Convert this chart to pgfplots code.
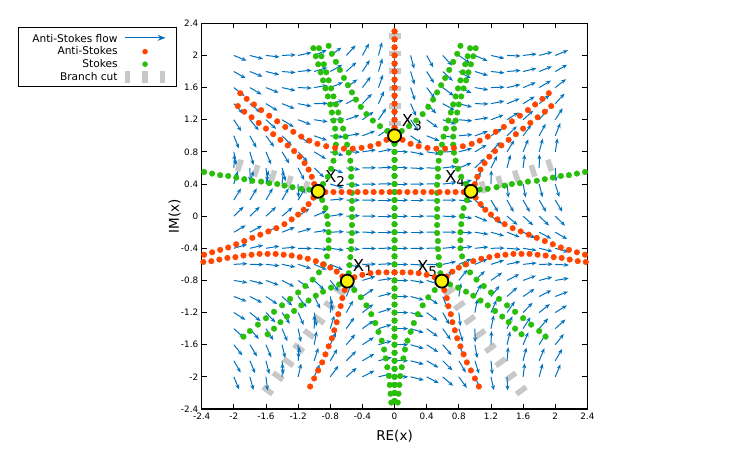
\documentclass[border=0pt]{standalone}
\usepackage{pgfplots}
\pgfplotsset{compat=1.18}
\usepackage{pgfplotstable}
\usetikzlibrary{arrows.meta}
\usepackage{fontspec}
\setmainfont{DejaVu Sans}
\definecolor{flowc}{RGB}{0,114,189}
\definecolor{redc}{RGB}{255,69,0}
\definecolor{greenc}{RGB}{40,190,10}
\definecolor{cutc}{RGB}{200,200,200}

% arrow directions (degrees) for x>0; x<0 mirrored with opposite sign
\pgfplotstableread{
x y d
0.2 -2 -13.9
0.2 -1.8 -15
0.2 -1.6 -16.3
0.2 -1.4 -17.3
0.2 -1.2 -17.5
0.2 -1 -14.9
0.2 -0.8 -8.8
0.2 -0.6 -2.9
0.2 -0.4 -0.4
0.2 -0.2 0
0.2 0 0
0.2 0.2 0
0.2 0.4 -0.4
0.2 0.6 -2.9
0.2 0.8 -11.2
0.2 1 -33.5
0.2 1.2 -56
0.2 1.4 -66
0.2 1.6 -70.7
0.2 1.8 -73.4
0.2 2 -75
0.4 -2 -27.6
0.4 -1.8 -30.1
0.4 -1.6 -32.9
0.4 -1.4 -35.6
0.4 -1.2 -37.3
0.4 -1 -34.5
0.4 -0.8 -17.2
0.4 -0.6 -1.4
0.4 -0.4 1.2
0.4 -0.2 0.35
0.4 0 -0.3
0.4 0.2 0.35
0.4 0.4 1.1
0.4 0.6 -0.9
0.4 0.8 -8.4
0.4 1 -21.5
0.4 1.2 -35.5
0.4 1.4 -45.9
0.4 1.6 -52.7
0.4 1.8 -57.5
0.4 2 -61.1
0.6 -2 -41
0.6 -1.8 -44.8
0.6 -1.6 -49.6
0.6 -1.4 -54.7
0.6 -1.2 -60.8
0.6 -1 -68.1
0.6 -0.8 44
0.6 -0.6 12.1
0.6 -0.4 5.2
0.6 -0.2 0.1
0.6 0 -2.2
0.6 0.2 0.1
0.6 0.4 5.6
0.6 0.6 6.7
0.6 0.8 1.1
0.6 1 -8.6
0.6 1.2 -19.4
0.6 1.4 -29.1
0.6 1.6 -36.6
0.6 1.8 -42.8
0.6 2 -47.5
0.8 -2 -53.9
0.8 -1.8 -59.2
0.8 -1.6 -65.3
0.8 -1.4 -72.8
0.8 -1.2 -83.1
0.8 -1 80.7
0.8 -0.8 51.7
0.8 -0.6 23.5
0.8 -0.4 7.7
0.8 -0.2 -2.7
0.8 0 -9.1
0.8 0.2 -5.7
0.8 0.4 16.9
0.8 0.6 21.4
0.8 0.8 14.8
0.8 1 5.2
0.8 1.2 -5
0.8 1.4 -14.5
0.8 1.6 -22.4
0.8 1.8 -29.2
0.8 2 -35
1 -2 -66.1
1 -1.8 -72.3
1 -1.6 -79.6
1 -1.4 -88.7
1 -1.2 79.4
1 -1 63.4
1 -0.8 43.2
1 -0.6 22.8
1 -0.4 5.6
1 -0.2 -8.8
1 0 -22.5
1 0.2 -41.3
1 0.4 64.1
1 0.6 43.7
1 0.8 31
1 1 19.3
1 1.2 8.6
1 1.4 -1.2
1 1.6 -9.6
1 1.8 -16.8
1 2 -23.1
1.2 -2 -77.3
1.2 -1.8 -84.1
1.2 -1.6 87.7
1.2 -1.4 78
1.2 -1.2 66
1.2 -1 51.5
1.2 -0.8 35
1.2 -0.6 17.7
1.2 -0.4 0.8
1.2 -0.2 -15.7
1.2 0 -34
1.2 0.2 -59
1.2 0.4 88.5
1.2 0.6 63.2
1.2 0.8 46.1
1.2 1 32.7
1.2 1.2 21.1
1.2 1.4 11
1.2 1.6 2.1
1.2 1.8 -5.7
1.2 2 -12.4
1.4 -2 -87.5
1.4 -1.8 85.1
1.4 -1.6 76.7
1.4 -1.4 66.8
1.4 -1.2 55.2
1.4 -1 41.9
1.4 -0.8 27.2
1.4 -0.6 11.5
1.4 -0.4 -4.5
1.4 -0.2 -21.3
1.4 0 -39.7
1.4 0.2 -61
1.4 0.4 -83.9
1.4 0.6 75.3
1.4 0.8 58.3
1.4 1 44.3
1.4 1.2 32.2
1.4 1.4 21.8
1.4 1.6 12.7
1.4 1.8 4.7
1.4 2 -2.5
1.6 -2 83.3
1.6 -1.8 76
1.6 -1.6 67.2
1.6 -1.4 57.4
1.6 -1.2 46.3
1.6 -1 33.9
1.6 -0.8 20.5
1.6 -0.6 6.1
1.6 -0.4 -9.2
1.6 -0.2 -25.2
1.6 0 -42.3
1.6 0.2 -60.5
1.6 0.4 -79.2
1.6 0.6 83
1.6 0.8 67.4
1.6 1 53.8
1.6 1.2 42
1.6 1.4 31.4
1.6 1.6 22.2
1.6 1.8 13.7
1.6 2 6.6
1.8 -2 74.9
1.8 -1.8 67.3
1.8 -1.6 58.7
1.8 -1.4 49.3
1.8 -1.2 38.7
1.8 -1 27.2
1.8 -0.8 14.5
1.8 -0.6 1
1.8 -0.4 -13.1
1.8 -0.2 -28
1.8 0 -43.5
1.8 0.2 -59.6
1.8 0.4 -75.7
1.8 0.6 88.9
1.8 0.8 74.5
1.8 1 61.6
1.8 1.2 50.1
1.8 1.4 39.7
1.8 1.6 30.7
1.8 1.8 22.3
1.8 2 14.9
2 -2 67.4
2 -1.8 59.8
2 -1.6 51.4
2 -1.4 42.2
2 -1.2 32.1
2 -1 21.1
2 -0.8 9.3
2 -0.6 -3.2
2 -0.4 -16.4
2 -0.2 -30
2 0 -44.1
2 0.2 -58.5
2 0.4 -72.8
2 0.6 -86.7
2 0.8 80.3
2 1 68.2
2 1.2 57.1
2 1.4 47.2
2 1.6 38.1
2 1.8 29.8
2 2 22.4
}\flowR

\pgfplotstableread{
x y d
0 -2 0
0 -1.8 0
0 -1.6 0
0 -1.4 0
0 -1.2 0
0 -1 0
0 -0.8 0
0 -0.6 0
0 -0.4 0
0 -0.2 0
0 0 0
0 0.2 0
0 0.4 0
0 0.6 0
0 0.8 0
0 1.2 -90
0 1.4 -90
0 1.6 -90
0 1.8 -90
0 2 -90
}\flowC

% anti-Stokes dots, left half (mirrored for right half)
\pgfplotstableread{
x y
0 1.1
0 1.2
0 1.3
0 1.4
0 1.5
0 1.6
0 1.7
0 1.8
0 1.9
0 2.0
0 2.1
0 2.2
0 2.3
-0.1 0.95
-0.2 0.9
-0.3 0.87
-0.41 0.85
-0.52 0.84
-0.63 0.84
-0.74 0.85
-0.85 0.87
-0.96 0.9
-1.06 0.94
-1.16 0.99
-1.26 1.05
-1.36 1.11
-1.46 1.18
-1.56 1.25
-1.66 1.32
-1.75 1.39
-1.84 1.46
-1.92 1.53
-1.0 0.4
-1.03 0.49
-1.07 0.58
-1.12 0.66
-1.18 0.74
-1.25 0.81
-1.33 0.88
-1.42 0.95
-1.51 1.02
-1.6 1.09
-1.69 1.16
-1.78 1.23
-1.87 1.3
-1.95 1.37
-0.86 0.3
-0.76 0.3
-0.66 0.3
-0.56 0.3
-0.46 0.3
-0.36 0.3
-0.26 0.3
-0.16 0.3
-0.06 0.3
-1.01 0.23
-1.07 0.15
-1.13 0.08
-1.2 0.02
-1.28 -0.04
-1.37 -0.1
-1.47 -0.15
-1.57 -0.19
-1.67 -0.23
-1.77 -0.27
-1.87 -0.31
-1.97 -0.35
-2.07 -0.39
-2.17 -0.42
-2.27 -0.45
-2.37 -0.48
-0.65 -0.75
-0.72 -0.69
-0.8 -0.64
-0.89 -0.6
-0.98 -0.56
-1.08 -0.53
-1.18 -0.51
-1.28 -0.49
-1.38 -0.48
-1.48 -0.47
-1.58 -0.47
-1.68 -0.47
-1.78 -0.48
-1.88 -0.49
-1.98 -0.51
-2.08 -0.52
-2.18 -0.54
-2.28 -0.56
-2.38 -0.57
-0.5 -0.76
-0.4 -0.73
-0.3 -0.71
-0.2 -0.7
-0.1 -0.7
0 -0.7
-0.62 -0.92
-0.65 -1.02
-0.67 -1.12
-0.7 -1.22
-0.72 -1.32
-0.75 -1.42
-0.78 -1.52
-0.82 -1.62
-0.86 -1.72
-0.9 -1.82
-0.95 -1.92
-1.0 -2.02
-1.05 -2.12
}\redL

% Stokes dots, left half (mirrored for right half)
\pgfplotstableread{
x y
0 0.9
0 0.8
0 0.7
0 0.6
0 0.5
0 0.4
0 0.3
0 0.2
0 0.1
0 0
0 -0.1
0 -0.2
0 -0.3
0 -0.4
0 -0.5
0 -0.6
0 -0.7
0 -0.8
0 -0.9
0 -1.0
0 -1.1
0 -1.2
0 -1.3
0 -1.4
0 -1.5
0 -1.6
0 -1.7
0 -1.8
0 -1.9
0 -2.0
0 -2.1
0 -2.2
0 -2.3
-0.09 1.06
-0.18 1.12
-0.27 1.19
-0.35 1.27
-0.42 1.36
-0.48 1.45
-0.53 1.54
-0.58 1.63
-0.63 1.72
-0.68 1.82
-0.73 1.92
-0.78 2.02
-0.82 2.12
-0.57 -0.71
-0.56 -0.61
-0.55 -0.51
-0.54 -0.41
-0.54 -0.31
-0.53 -0.21
-0.53 -0.11
-0.53 -0.01
-0.53 0.09
-0.53 0.19
-0.53 0.29
-0.53 0.39
-0.54 0.49
-0.54 0.59
-0.55 0.69
-0.57 0.79
-0.59 0.89
-0.61 0.99
-0.64 1.09
-0.67 1.19
-0.7 1.29
-0.73 1.39
-0.76 1.49
-0.79 1.59
-0.82 1.69
-0.85 1.79
-0.88 1.89
-0.91 1.99
-0.94 2.09
-0.89 0.4
-0.83 0.49
-0.79 0.59
-0.76 0.69
-0.74 0.79
-0.73 0.89
-0.73 0.99
-0.74 1.09
-0.76 1.19
-0.78 1.29
-0.8 1.39
-0.83 1.49
-0.86 1.59
-0.89 1.69
-0.92 1.79
-0.95 1.89
-0.98 1.99
-1.01 2.09
-1.06 0.33
-1.16 0.34
-1.27 0.36
-1.37 0.38
-1.46 0.4
-1.56 0.41
-1.66 0.43
-1.77 0.44
-1.87 0.46
-1.97 0.48
-2.07 0.5
-2.17 0.51
-2.27 0.53
-2.37 0.55
-0.9 0.2
-0.86 0.1
-0.84 0.0
-0.83 -0.1
-0.82 -0.2
-0.82 -0.3
-0.82 -0.4
-0.84 -0.5
-0.88 -0.6
-0.94 -0.7
-1.02 -0.79
-1.11 -0.87
-1.2 -0.95
-1.3 -1.03
-1.4 -1.11
-1.5 -1.19
-1.6 -1.27
-1.7 -1.35
-1.8 -1.43
-1.88 -1.5
-0.69 -0.85
-0.79 -0.89
-0.89 -0.94
-0.98 -0.99
-1.07 -1.05
-1.16 -1.11
-1.25 -1.18
-1.34 -1.25
-1.42 -1.32
-1.5 -1.4
-1.58 -1.47
-0.5 -0.92
-0.42 -1.01
-0.35 -1.11
-0.29 -1.22
-0.24 -1.33
-0.2 -1.44
-0.16 -1.55
-0.13 -1.66
-0.11 -1.77
-0.09 -1.88
-0.07 -1.99
-0.06 -2.1
-0.05 -2.21
-0.04 -2.32
}\greenL

\begin{document}
\begin{tikzpicture}
\useasboundingbox (0pt,0pt) rectangle (750pt,450pt);
\begin{axis}[
  at={(201.7pt,41pt)}, anchor=south west,
  width=385.7pt, height=385.7pt, scale only axis,
  xmin=-2.4, xmax=2.4, ymin=-2.4, ymax=2.4,
  xtick={-2.4,-2,-1.6,-1.2,-0.8,-0.4,0,0.4,0.8,1.2,1.6,2,2.4},
  ytick={-2.4,-2,-1.6,-1.2,-0.8,-0.4,0,0.4,0.8,1.2,1.6,2,2.4},
  tick align=inside, major tick length=5pt,
  axis line style={line width=1.1pt},
  every tick/.style={black, line width=0.8pt},
  tick label style={font=\fontsize{8.8}{10}\selectfont},
  /pgf/number format/assume math mode=true,
  xlabel={RE(x)}, ylabel={IM(x)},
  label style={font=\fontsize{13.5}{14}\selectfont},
  xlabel style={at={(axis description cs:0.5,-0.07)}, anchor=center},
  ylabel style={at={(axis description cs:-0.07,0.5)}, anchor=center},
  legend style={at={(axis description cs:-0.476,0.99)}, anchor=north west,
    draw=black, font=\fontsize{10.6}{12}\selectfont, inner xsep=5pt, inner ysep=2.5pt,
    row sep=-1pt, nodes={inner xsep=1pt}},
  legend cell align=right, legend plot pos=right,
  clip=true,
]
\addlegendimage{legend image code/.code={\path[draw=none,fill=none] (0pt,-3pt) rectangle (46pt,3pt); \draw[flowc, line width=1pt, -{Stealth[length=8pt,width=6pt]}] (5pt,0pt)--(46pt,0pt);}}
\addlegendimage{legend image code/.code={\path[draw=none,fill=none] (0pt,-3pt) rectangle (46pt,3pt); \fill[redc, draw=none] (25.5pt,0pt) circle (2.8pt);}}
\addlegendimage{legend image code/.code={\path[draw=none,fill=none] (0pt,-3pt) rectangle (46pt,3pt); \fill[greenc, draw=none] (25.5pt,0pt) circle (2.8pt);}}
\addlegendimage{legend image code/.code={\path[draw=none,fill=none] (0pt,-3pt) rectangle (46pt,3pt); \draw[cutc, line width=12pt, dash pattern=on 5.5pt off 12pt] (5pt,0pt)--(46pt,0pt);}}
\legend{\rule{0pt}{10.5pt}\hspace*{8pt}Anti-Stokes flow, Anti-Stokes, Stokes, Branch cut}

% branch cuts
\addplot[forget plot, cutc, line width=12pt, dash pattern=on 5.5pt off 12pt] coordinates {(0,1.12) (0,2.35)};
\addplot[forget plot, cutc, line width=12pt, dash pattern=on 5.5pt off 12pt] coordinates {(-1.07,0.35) (-2.08,0.68)};
\addplot[forget plot, cutc, line width=12pt, dash pattern=on 5.5pt off 12pt] coordinates {(1.07,0.35) (2.08,0.68)};
\addplot[forget plot, cutc, line width=12pt, dash pattern=on 5.5pt off 12pt] coordinates {(-0.66,-0.91) (-1.65,-2.27)};
\addplot[forget plot, cutc, line width=12pt, dash pattern=on 5.5pt off 12pt] coordinates {(0.66,-0.91) (1.65,-2.27)};

% anti-Stokes flow
\addplot[forget plot, flowc, line width=1pt, no markers,
  quiver={u={0.17*cos(\thisrow{d})}, v={0.17*sin(\thisrow{d})},
  every arrow/.append style={-{Stealth[length=5pt,width=4pt]}}}]
  table[x=x, y=y] {\flowR};
\addplot[forget plot, flowc, line width=1pt, no markers,
  quiver={u={0.17*cos(\thisrow{d})}, v={-0.17*sin(\thisrow{d})},
  every arrow/.append style={-{Stealth[length=5pt,width=4pt]}}}]
  table[x expr=-\thisrow{x}, y=y] {\flowR};
\addplot[forget plot, flowc, line width=1pt, no markers,
  quiver={u={0.17*cos(\thisrow{d})}, v={0.17*sin(\thisrow{d})},
  every arrow/.append style={-{Stealth[length=5pt,width=4pt]}}}]
  table[x=x, y=y] {\flowC};

% Stokes lines
\addplot[forget plot, only marks, mark=*, mark size=2.8pt, greenc, mark options={draw=none, fill=greenc}] table[x=x, y=y] {\greenL};
\addplot[forget plot, only marks, mark=*, mark size=2.8pt, greenc, mark options={draw=none, fill=greenc}] table[x expr=-\thisrow{x}, y=y] {\greenL};
% anti-Stokes lines
\addplot[forget plot, only marks, mark=*, mark size=2.8pt, redc, mark options={draw=none, fill=redc}] table[x=x, y=y] {\redL};
\addplot[forget plot, only marks, mark=*, mark size=2.8pt, redc, mark options={draw=none, fill=redc}] table[x expr=-\thisrow{x}, y=y] {\redL};

% turning points
\addplot[forget plot, only marks, mark=*, mark size=6.5pt, mark options={fill=yellow, draw=black, line width=1.8pt}]
  coordinates {(-0.588,-0.809) (-0.951,0.309) (0,1) (0.951,0.309) (0.588,-0.809)};

\node[anchor=base west, inner sep=0pt, font=\fontsize{16.5}{17}\selectfont] at (axis cs:-0.52,-0.694) {X\raisebox{-3.8pt}{\fontsize{13.5}{14}\selectfont 1}};
\node[anchor=base west, inner sep=0pt, font=\fontsize{16.5}{17}\selectfont] at (axis cs:-0.867,0.413) {X\raisebox{-3.8pt}{\fontsize{13.5}{14}\selectfont 2}};
\node[anchor=base west, inner sep=0pt, font=\fontsize{16.5}{17}\selectfont] at (axis cs:0.09,1.11) {X\raisebox{-3.8pt}{\fontsize{13.5}{14}\selectfont 3}};
\node[anchor=base west, inner sep=0pt, font=\fontsize{16.5}{17}\selectfont] at (axis cs:0.626,0.413) {X\raisebox{-3.8pt}{\fontsize{13.5}{14}\selectfont 4}};
\node[anchor=base west, inner sep=0pt, font=\fontsize{16.5}{17}\selectfont] at (axis cs:0.277,-0.707) {X\raisebox{-3.8pt}{\fontsize{13.5}{14}\selectfont 5}};
\end{axis}
\end{tikzpicture}
\end{document}
